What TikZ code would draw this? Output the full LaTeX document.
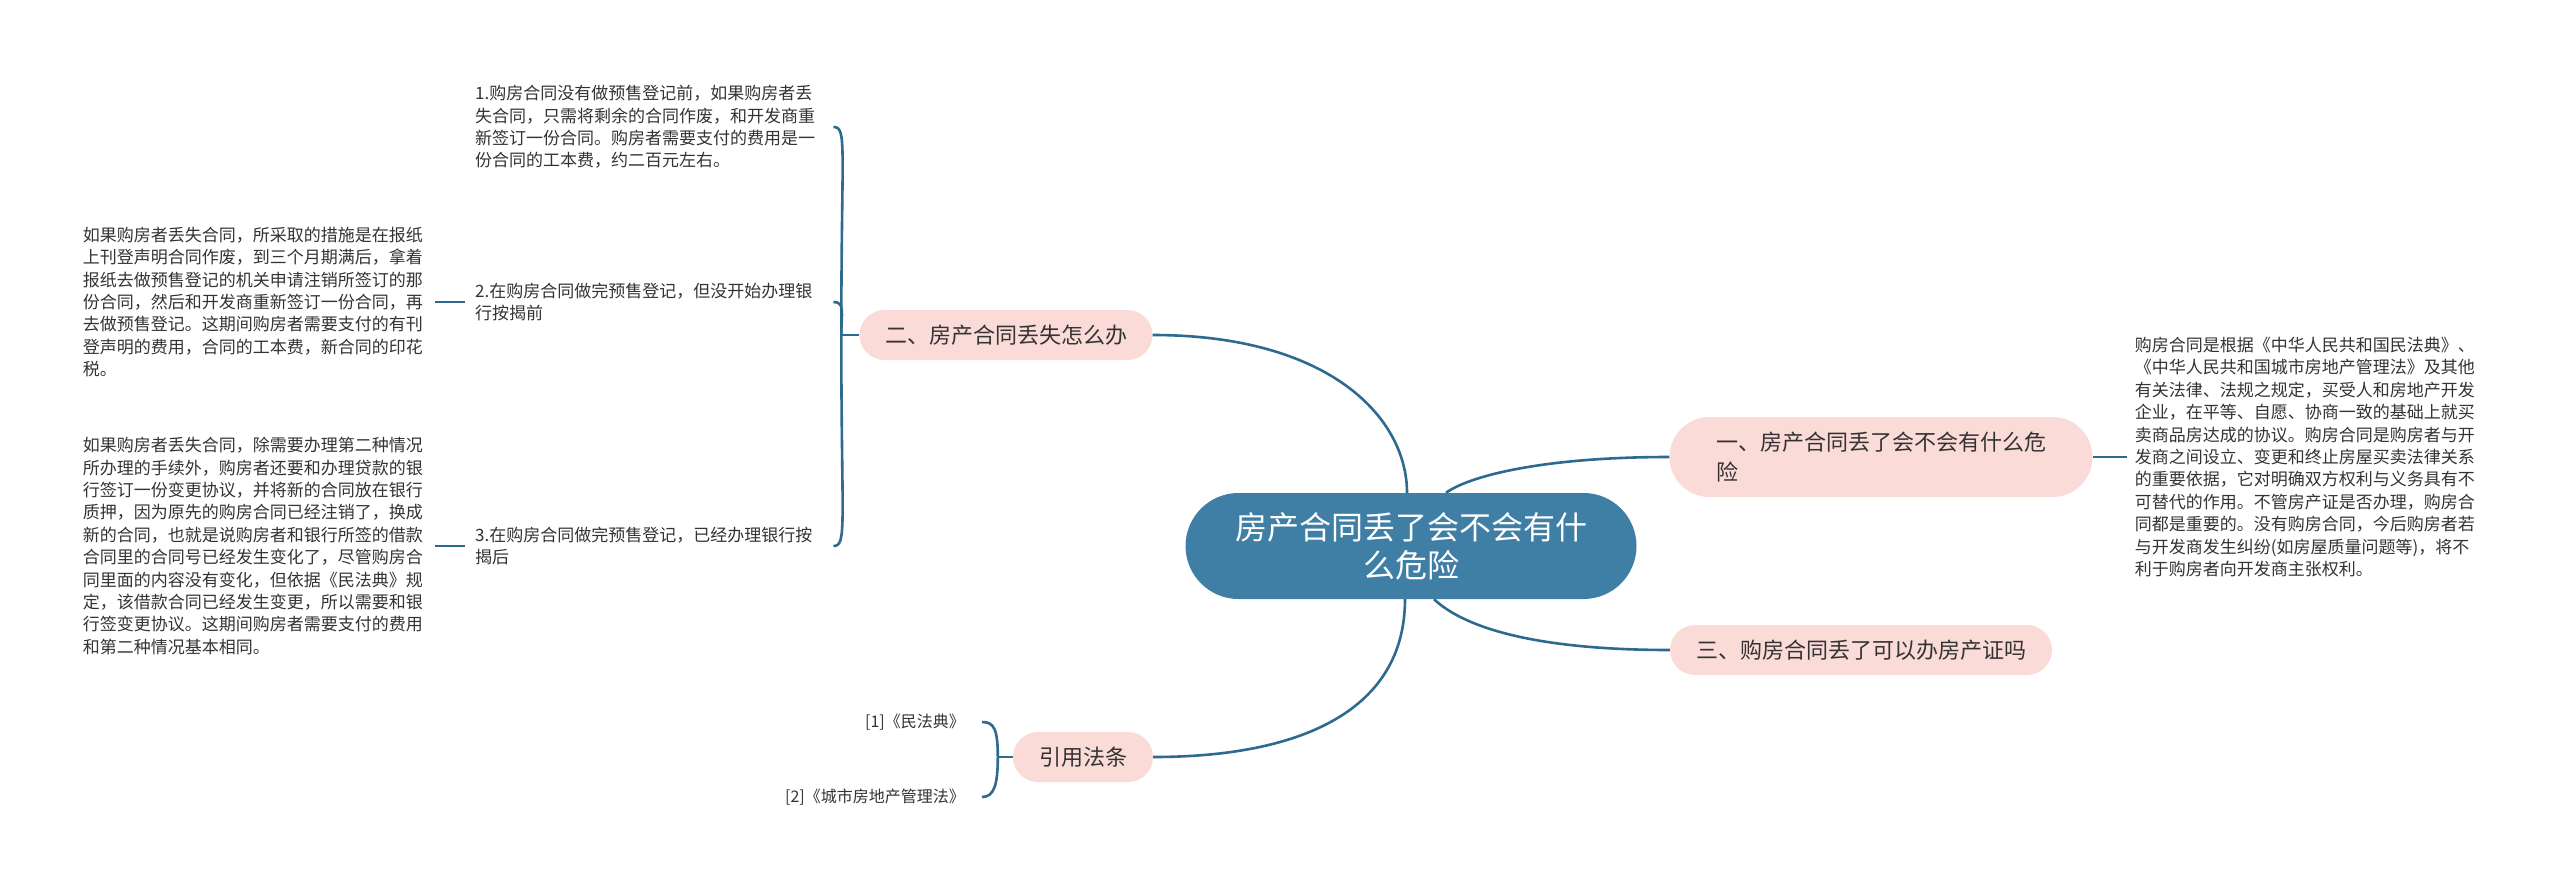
\documentclass[tikz,border=0pt]{standalone}
\usepackage{fontspec}
\setmainfont{Noto Sans CJK SC}
\usepackage{xcolor}
\usepackage{tikz}
\usetikzlibrary{shapes.misc,positioning,calc}

\definecolor{rootblue}{HTML}{3F7EA5}
\definecolor{branchpink}{HTML}{FADBD8}
\definecolor{linkblue}{HTML}{2E6A90}
\definecolor{inkgray}{HTML}{333333}

\begin{document}
\begin{tikzpicture}[x=1pt,y=-1pt,
    root/.style={rounded rectangle,fill=rootblue,text=white,minimum width=451pt,minimum height=106pt,
      align=center,inner sep=0pt,font=\fontsize{32}{38}\selectfont},
    branch/.style={rounded rectangle,fill=branchpink,text=inkgray,minimum height=50pt,
      inner sep=0pt,font=\fontsize{22}{30}\selectfont},
    leaf/.style={text=inkgray,text width=345pt,align=left,inner sep=0pt,font=\fontsize{17}{22.4}\selectfont},
    cite/.style={text=inkgray,inner sep=0pt,font=\fontsize{16}{20}\selectfont},
    link/.style={draw=linkblue,line width=2.6pt}]
  \useasboundingbox (0,0) rectangle (2560,889);

  % centre and main branches
  \node[root] (root) at (1411,546) {房产合同丢了会不会有什\\么危险};
  \node[branch,minimum width=423pt,minimum height=80pt,align=left] (b1) at (1881,457) {一、房产合同丢了会不会有什么危\\险};
  \node[branch,minimum width=293pt] (b2) at (1006,335) {二、房产合同丢失怎么办};
  \node[branch,minimum width=382pt] (b3) at (1861,650) {三、购房合同丢了可以办房产证吗};
  \node[branch,minimum width=140pt] (b4) at (1083,757) {引用法条};

  % leaves
  \node[leaf,right=42pt of b1] (law) {购房合同是根据《中华人民共和国民法典》、\\《中华人民共和国城市房地产管理法》及其他\\有关法律、法规之规定，买受人和房地产开发\\企业，在平等、自愿、协商一致的基础上就买\\卖商品房达成的协议。购房合同是购房者与开\\发商之间设立、变更和终止房屋买卖法律关系\\的重要依据，它对明确双方权利与义务具有不\\可替代的作用。不管房产证是否办理，购房合\\同都是重要的。没有购房合同，今后购房者若\\与开发商发生纠纷(如房屋质量问题等)，将不\\利于购房者向开发商主张权利。};
  \node[leaf,anchor=west] (i1) at (475,127) {1.购房合同没有做预售登记前，如果购房者丢\\失合同，只需将剩余的合同作废，和开发商重\\新签订一份合同。购房者需要支付的费用是一\\份合同的工本费，约二百元左右。};
  \node[leaf,anchor=west] (i2) at (475,302) {2.在购房合同做完预售登记，但没开始办理银\\行按揭前};
  \node[leaf,anchor=west] (i3) at (475,546) {3.在购房合同做完预售登记，已经办理银行按\\揭后};
  \node[leaf,left=47pt of i2] (d2) {如果购房者丢失合同，所采取的措施是在报纸\\上刊登声明合同作废，到三个月期满后，拿着\\报纸去做预售登记的机关申请注销所签订的那\\份合同，然后和开发商重新签订一份合同，再\\去做预售登记。这期间购房者需要支付的有刊\\登声明的费用，合同的工本费，新合同的印花\\税。};
  \node[leaf,left=47pt of i3] (d3) {如果购房者丢失合同，除需要办理第二种情况\\所办理的手续外，购房者还要和办理贷款的银\\行签订一份变更协议，并将新的合同放在银行\\质押，因为原先的购房合同已经注销了，换成\\新的合同，也就是说购房者和银行所签的借款\\合同里的合同号已经发生变化了，尽管购房合\\同里面的内容没有变化，但依据《民法典》规\\定，该借款合同已经发生变更，所以需要和银\\行签变更协议。这期间购房者需要支付的费用\\和第二种情况基本相同。};
  \node[cite,anchor=east] (c1) at (965,722) {[1]《民法典》};
  \node[cite,anchor=east] (c2) at (965,797) {[2]《城市房地产管理法》};

  % fork points
  \coordinate (b2fork) at ($(b2.west)+(-18,0)$);
  \coordinate (b4fork) at ($(b4.west)+(-15,0)$);

  % root to branches
  \draw[link] (b2.east) .. controls +(177,0) and +(0,-75) .. ($(root.north)+(-4,0)$);
  \draw[link] ($(root.north)+(35,0)$) .. controls +(22,-16) and +(-130,0) .. (b1.west);
  \draw[link] ($(root.south)+(23,0)$) .. controls +(32,30) and +(-130,0) .. (b3.west);
  \draw[link] ($(root.south)+(-6,0)$) .. controls +(0,110) and +(150,0) .. (b4.east);

  % branch two
  \draw[link] (b2.west) -- (b2fork);
  \draw[link] (b2fork) .. controls +(0,-190) and +(14,0) .. ($(i1.east)+(13,0)$);
  \draw[link] (b2fork) .. controls +(0,-22) and +(12,0) .. ($(i2.east)+(13,0)$);
  \draw[link] (b2fork) .. controls +(0,190) and +(14,0) .. ($(i3.east)+(13,0)$);
  \draw[link] ($(i2.west)+(-10,0)$) -- ($(d2.east)+(7,0)$);
  \draw[link] ($(i3.west)+(-10,0)$) -- ($(d3.east)+(7,0)$);

  % branch one
  \draw[link] (b1.east) -- ($(law.west)+(-8,0)$);

  % citations
  \draw[link] (b4.west) -- (b4fork);
  \draw[link] (b4fork) .. controls +(0,-28) and +(12,0) .. ($(c1.east)+(17,0)$);
  \draw[link] (b4fork) .. controls +(0,28) and +(12,0) .. ($(c2.east)+(17,0)$);
\end{tikzpicture}
\end{document}
